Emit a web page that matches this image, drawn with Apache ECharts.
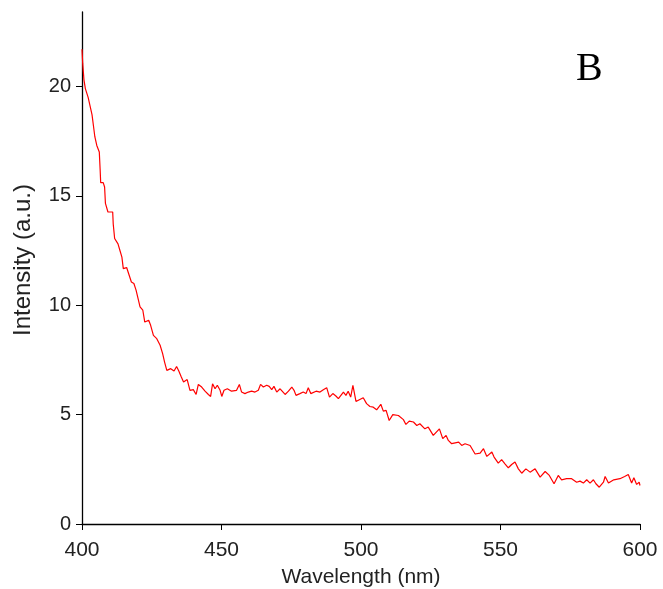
<!DOCTYPE html>
<html>
<head>
<meta charset="utf-8">
<script src="https://cdn.jsdelivr.net/npm/echarts@6/dist/echarts.min.js"></script>
<style>
html,body{margin:0;padding:0;background:#fff;}
#chart{width:663px;height:589px;}
</style>
</head>
<body>
<div id="chart"></div>
<script>
const wavelength = [400.0,400.25,400.7,401.2,402.2,402.9,403.6,404.1,404.6,405.3,406.2,406.5,406.7,407.6,408.1,408.4,409.3,411.0,411.2,411.7,412.9,413.6,414.3,414.8,416.0,416.7,417.7,418.6,419.4,420.1,420.8,421.8,422.5,423.2,423.9,424.6,425.6,426.8,428.0,428.9,429.6,430.4,431.1,431.8,433.0,433.9,434.7,435.6,436.4,437.7,438.7,439.9,440.9,441.7,442.9,444.1,445.3,446.1,446.8,447.7,448.5,449.5,450.1,450.9,452.1,453.6,455.4,456.4,457.2,458.4,459.6,460.8,462.0,463.2,464.0,465.0,466.2,467.1,468.0,468.8,469.8,471.0,472.8,474.0,475.2,476.0,476.7,478.1,479.3,480.3,481.1,482.0,482.7,483.9,485.3,486.5,487.7,488.7,489.9,491.0,491.9,493.7,494.6,495.4,496.3,497.1,498.2,499.4,500.8,502.0,503.2,504.4,505.6,507.1,508.0,509.0,510.1,511.4,513.4,515.2,516.1,517.3,518.8,520.0,521.1,522.9,524.1,525.9,528.1,529.3,530.5,531.3,532.5,533.2,535.0,536.1,537.3,539.1,540.9,542.7,543.9,545.1,546.9,547.7,549.2,550.4,551.6,552.8,554.0,555.2,556.4,557.6,559.1,560.6,562.4,564.2,566.0,567.5,569.2,570.7,571.9,573.7,575.5,577.3,578.5,579.7,580.9,582.1,583.3,584.2,585.4,586.9,587.5,588.7,590.6,592.8,594.5,595.8,597.0,597.8,598.8,599.7,600.0];
const intensity = [21.7,21.05,20.3,19.9,19.5,19.1,18.7,18.2,17.7,17.3,17.0,16.2,15.6,15.6,15.4,14.65,14.26,14.26,13.7,13.05,12.8,12.5,12.2,11.67,11.72,11.45,11.06,10.99,10.68,10.3,9.92,9.77,9.23,9.23,9.31,9.08,8.62,8.47,8.17,7.79,7.4,7.02,6.94,7.1,6.99,7.2,6.99,6.72,6.49,6.6,6.11,6.14,5.92,6.38,6.26,6.07,5.92,5.83,6.41,6.18,6.34,6.11,5.83,6.11,6.18,6.07,6.11,6.38,6.03,5.96,6.03,6.07,6.03,6.11,6.38,6.26,6.34,6.29,6.14,6.29,6.03,6.18,5.92,6.07,6.26,6.11,5.88,5.96,6.03,5.96,6.23,5.96,6.03,6.07,6.03,6.14,6.23,5.8,5.96,5.85,5.73,6.03,5.88,6.07,5.8,6.34,5.6,5.68,5.77,5.5,5.37,5.34,5.22,5.47,5.16,5.19,4.73,5.0,4.96,4.77,4.55,4.7,4.66,4.5,4.58,4.35,4.43,4.05,4.35,3.9,4.05,3.82,3.67,3.67,3.74,3.59,3.67,3.59,3.2,3.24,3.44,3.09,3.29,3.06,2.78,2.94,2.75,2.57,2.72,2.83,2.52,2.32,2.52,2.37,2.52,2.14,2.4,2.22,1.84,2.22,2.02,2.07,2.07,1.91,1.96,1.87,2.02,1.87,2.02,1.84,1.68,1.91,2.17,1.87,2.02,2.07,2.17,2.26,1.87,2.11,1.81,1.91,1.76];
const xTicks = [400, 450, 500, 550, 600];
const yTicks = [0, 5, 10, 15, 20];
const xTitle = 'Wavelength (nm)';
const yTitle = 'Intensity (a.u.)';
const panelLabel = 'B';

const data = wavelength.map((w, i) => [w, intensity[i]]);
const chart = echarts.init(document.getElementById('chart'), null, {renderer: 'canvas'});
const font = 'Liberation Sans, Arial, sans-serif';
chart.setOption({
  animation: false,
  backgroundColor: '#ffffff',
  grid: {left: 82, right: 23, top: 12, bottom: 65, containLabel: false, outerBoundsMode: 'none'},
  xAxis: {
    type: 'value', min: 400, max: 600, interval: 50,
    name: xTitle, nameLocation: 'middle', nameGap: 43,
    nameTextStyle: {fontFamily: font, fontSize: 21, color: '#222'},
    axisLine: {show: true, onZero: false, lineStyle: {color: '#000', width: 1.3}},
    axisTick: {show: true, inside: false, length: 6, lineStyle: {color: '#000'}, customValues: xTicks},
    axisLabel: {fontFamily: font, fontSize: 21, color: '#222', margin: 16, customValues: xTicks},
    splitLine: {show: false}
  },
  yAxis: {
    type: 'value', min: 0, max: 23.4, interval: 5,
    name: yTitle, nameLocation: 'middle', nameGap: 47, nameRotate: 90,
    nameTextStyle: {fontFamily: font, fontSize: 24, color: '#222', padding: [0, 0, 0, 16]},
    axisLine: {show: true, onZero: false, lineStyle: {color: '#000', width: 1.3}},
    axisTick: {show: true, inside: false, length: 6, lineStyle: {color: '#000'}, customValues: yTicks},
    axisLabel: {fontFamily: font, fontSize: 20, color: '#222', margin: 11, customValues: yTicks},
    splitLine: {show: false}
  },
  graphic: [{
    type: 'text', left: 576, top: 49,
    style: {text: panelLabel, font: '40px "Liberation Serif", "Times New Roman", serif', fill: '#000'}
  }],
  series: [{
    type: 'line', data: data, showSymbol: false, symbol: 'none',
    lineStyle: {color: '#ff0000', width: 1.2}, clip: true
  }]
});
</script>
</body>
</html>
